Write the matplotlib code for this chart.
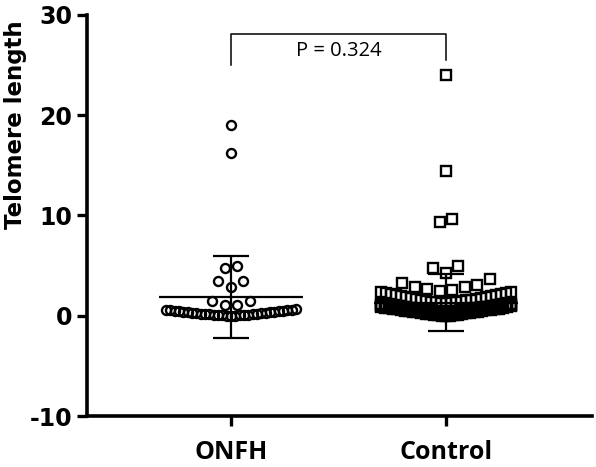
import numpy as np
import matplotlib.pyplot as plt

groups = ['ONFH', 'Control']
group_x = [1, 2]

# each inner list is one horizontal row of the scatter as it sits in the picture
onfh_rows = [
    [0.00, 0.01, 0.02, 0.03, 0.05, 0.06, 0.08, 0.10, 0.12, 0.14, 0.16,
     0.18, 0.20, 0.22, 0.25, 0.27, 0.29, 0.31, 0.34, 0.36, 0.38, 0.40,
     0.43, 0.45, 0.48, 0.50, 0.53, 0.56, 0.59, 0.62, 0.66],
    [1.1, 1.1, 1.5, 1.5],
    [2.9, 3.5, 3.5],
    [4.8, 5.0],
    [16.2],
    [19.0],
]
control_rows = [
    [0.00, 0.01, 0.02, 0.04, 0.06, 0.09, 0.12, 0.15, 0.18, 0.21, 0.24, 0.27,
     0.30, 0.33, 0.36, 0.39, 0.42, 0.45, 0.48, 0.51, 0.54, 0.57, 0.60, 0.63,
     0.66, 0.69, 0.72, 0.75, 0.78, 0.82, 0.86, 0.90, 0.95],
    [0.15, 0.16, 0.17, 0.19, 0.21, 0.24, 0.27, 0.30, 0.33, 0.36, 0.39, 0.42,
     0.45, 0.48, 0.51, 0.54, 0.57, 0.60, 0.63, 0.66, 0.69, 0.72, 0.75, 0.78,
     0.81, 0.84, 0.87, 0.90, 0.93, 0.96, 0.99, 1.02, 1.05],
    [0.30, 0.31, 0.32, 0.34, 0.36, 0.38, 0.40, 0.43, 0.46, 0.49, 0.52, 0.55,
     0.58, 0.61, 0.64, 0.67, 0.70, 0.73, 0.76, 0.79, 0.82, 0.85, 0.88, 0.91,
     0.94, 0.97, 1.00, 1.03, 1.06, 1.08, 1.10, 1.12],
    [0.45, 0.46, 0.47, 0.49, 0.51, 0.53, 0.55, 0.58, 0.61, 0.64, 0.67, 0.70,
     0.73, 0.76, 0.79, 0.82, 0.85, 0.88, 0.91, 0.94, 0.97, 1.00, 1.03, 1.06,
     1.09, 1.12, 1.15, 1.18, 1.20],
    [1.30, 1.31, 1.33, 1.35, 1.38, 1.41, 1.45, 1.49, 1.53, 1.57, 1.61, 1.65,
     1.70, 1.74, 1.79, 1.84, 1.89, 1.94, 1.99, 2.04, 2.09, 2.14, 2.19, 2.24,
     2.29, 2.34, 2.40],
    [2.5, 2.6, 2.7, 2.9, 2.9, 3.1, 3.3, 3.7],
    [4.3, 4.8, 5.0],
    [9.4, 9.7],
    [14.4],
    [24.0],
]
means = [1.9, 1.3]
sds = [4.1, 2.85]
p_text = 'P = 0.324'

fig = plt.figure(figsize=(5.96, 4.67), dpi=100)
ax = fig.add_axes([87 / 596, 51 / 467, 505 / 596, 401 / 467])
ax.set_xlim(0.33, 2.68)
ax.set_ylim(-10, 30)
px = ax.bbox.width / (2.68 - 0.33)   # pixels per x unit


def row_offsets(n, max_w=130, step=12.5):
    # GraphPad-like row: lowest value in the middle, then alternate left/right
    s = step if n < 2 else min(step, max_w / (n - 1))
    if n % 2:
        slots = [0] + [k * s * sgn for k in range(1, n // 2 + 1) for sgn in (-1, 1)]
    else:
        slots = [(k + 0.5) * s * sgn for k in range(n // 2) for sgn in (-1, 1)]
    return np.array(slots[:n]) / px


for x0, rows, mk in [(group_x[0], onfh_rows, 'o'), (group_x[1], control_rows, 's')]:
    for row in rows:
        vals = sorted(row)
        ax.plot(x0 + row_offsets(len(vals)), vals, ls='none', marker=mk, ms=6.5,
                mfc='none', mec='black', mew=1.7, zorder=2)

# mean +/- SD
cap, half = 18 / px, 72 / px
for x0, m, s in zip(group_x, means, sds):
    ax.vlines(x0, m - s, m + s, color='black', lw=1.6, zorder=3)
    ax.hlines([m - s, m + s], x0 - cap, x0 + cap, color='black', lw=1.6, zorder=3)
    ax.hlines(m, x0 - half, x0 + half, color='black', lw=1.6, zorder=3)

# significance bracket
ax.plot([1, 1, 2, 2], [25.0, 28.1, 28.1, 25.5], color='black', lw=1.1)
ax.text(1.5, 26.4, p_text, ha='center', va='center', fontsize=14.5, family='Open Sans')

for side in ['top', 'right']:
    ax.spines[side].set_visible(False)
for side in ['left', 'bottom']:
    ax.spines[side].set_linewidth(2.6)

ax.set_yticks([-10, 0, 10, 20, 30])
ax.set_yticklabels(['-10', '0', '10', '20', '30'], fontsize=17, fontweight='bold',
                   family='DejaVu Sans')
ax.set_xticks(group_x)
ax.set_xticklabels(groups, fontsize=18, fontweight='bold', family='Open Sans')
ax.tick_params(axis='y', length=7, width=2.4, pad=3.5)
ax.tick_params(axis='x', length=7, width=2.4, pad=10)

fig.text(16 / 596, 1 - 125 / 467, 'Telomere length', rotation=90, ha='center', va='center',
         fontsize=16.5, fontweight='bold', family='DejaVu Sans')

fig.savefig('out.png', dpi=100)
